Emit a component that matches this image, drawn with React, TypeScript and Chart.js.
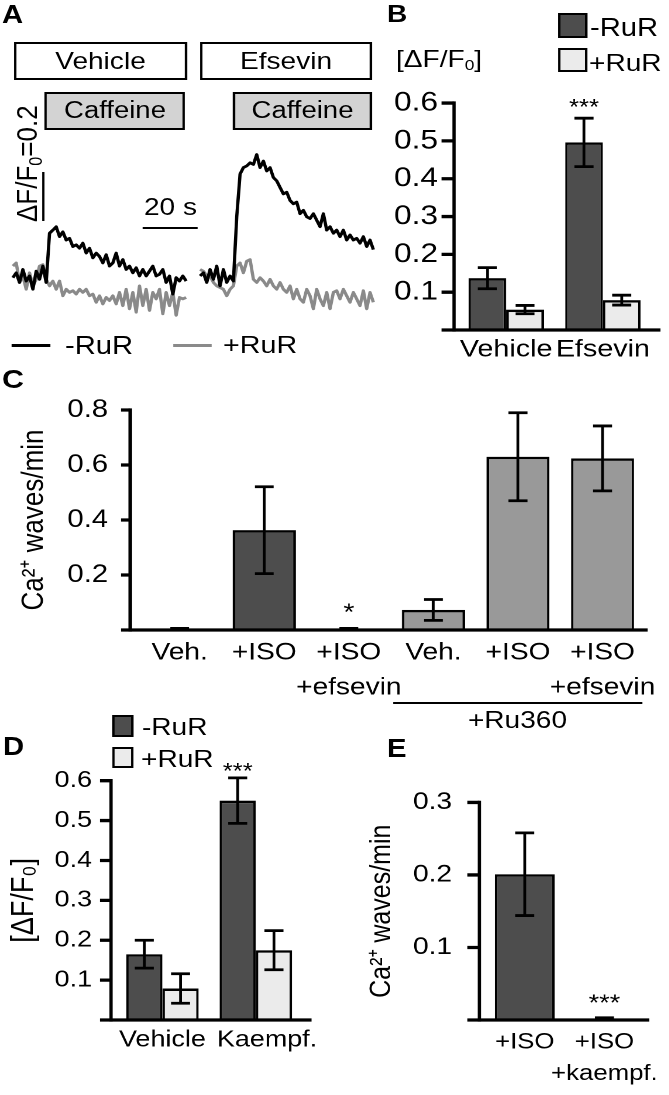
import React, { useEffect, useRef } from 'react';
import { Chart, registerables } from 'chart.js';

Chart.register(...registerables);

// The reference figure is stretched horizontally; everything is laid out in
// final page pixels and drawn inside a wrapper scaled by S along x.
const S = 1.17;
const FONT = '"Liberation Sans", Arial, Helvetica, sans-serif';
const DARK = '#4d4d4d';
const MID = '#999999';
const LIGHT = '#ebebeb';
const CAFF = '#d3d3d3';
const TRACE_GRAY = '#8a8a8a';

// ---------- Panel A: Ca2+ traces (ΔF/F0, ~1.2 s per sample) ----------
const vehicleMinusRuR = [
  0, 0.020, -0.020, 0.034, -0.014, 0.007, -0.048, 0.027, -0.007, 0.048,
  -0.020, 0.184, 0.197, 0.211, 0.170, 0.190, 0.156, 0.163, 0.129, 0.136,
  0.122, 0.143, 0.102, 0.122, 0.082, 0.102, 0.088, 0.061, 0.095, 0.048,
  0.061, 0.102, 0.048, 0.075, 0.034, 0.048, 0.020, 0.041, 0.007, 0.034,
  0.007, 0.027, 0.048, 0.007, 0.014, 0.034, -0.020, 0.007, -0.068, 0,
  -0.014, 0.007, -0.014,
];
const vehiclePlusRuR = [
  0.048, 0.061, -0.020, 0.007, -0.048, 0.020, -0.034, -0.007, 0.048, 0.054,
  -0.007, -0.034, -0.014, -0.048, -0.014, -0.075, -0.048, -0.061, -0.054, -0.068,
  -0.048, -0.061, -0.048, -0.075, -0.068, -0.102, -0.075, -0.109, -0.082, -0.095,
  -0.075, -0.109, -0.061, -0.116, -0.048, -0.129, -0.061, -0.143, -0.034, -0.116,
  -0.048, -0.136, -0.061, -0.088, -0.048, -0.150, -0.061, -0.116, -0.061, -0.156,
  -0.082, -0.088, -0.082,
];
const efsevinMinusRuR = [
  0.007, 0.020, -0.020, 0.034, -0.007, 0.048, -0.034, 0.034, -0.020, 0.007,
  -0.014, 0.252, 0.429, 0.456, 0.463, 0.476, 0.469, 0.510, 0.456, 0.483,
  0.442, 0.456, 0.415, 0.401, 0.374, 0.347, 0.354, 0.320, 0.306, 0.313,
  0.265, 0.279, 0.252, 0.245, 0.265, 0.238, 0.211, 0.265, 0.197, 0.211,
  0.184, 0.197, 0.170, 0.197, 0.156, 0.177, 0.156, 0.163, 0.143, 0.170,
  0.129, 0.156, 0.116,
];
const efsevinPlusRuR = [
  0.034, 0.027, 0.007, 0.007, -0.020, -0.034, -0.041, -0.048, -0.075, -0.048,
  -0.034, 0.048, 0.061, 0.020, 0.068, 0.075, -0.007, -0.020, 0, -0.014,
  -0.034, -0.007, -0.034, -0.048, -0.020, -0.048, -0.061, -0.034, -0.088, -0.048,
  -0.088, -0.102, -0.048, -0.075, -0.129, -0.048, -0.088, -0.116, -0.061, -0.129,
  -0.061, -0.054, -0.088, -0.048, -0.075, -0.102, -0.061, -0.088, -0.116, -0.054,
  -0.129, -0.061, -0.102,
];

// ---------- Panel B ----------
const bCategories = ['Vehicle', 'Efsevin'];
const bMinusRuR = [0.137, 0.496];
const bMinusRuRErr = [0.028, 0.064];
const bPlusRuR = [0.054, 0.079];
const bPlusRuRErr = [0.011, 0.013];
const bStars = ['', '***'];
const bTicks = [0.1, 0.2, 0.3, 0.4, 0.5, 0.6];

// ---------- Panel C ----------
const cCategories: any[] = ['Veh.', '+ISO', ['+ISO', '+efsevin'], 'Veh.', '+ISO', ['+ISO', '+efsevin']];
const cValues = [0, 0.363, 0, 0.073, 0.63, 0.624];
const cErrors = [0.006, 0.158, 0.006, 0.038, 0.16, 0.118];
const cColors = [DARK, DARK, DARK, MID, MID, MID];
const cStars = ['', '', '*', '', '', ''];
const cTicks = [0.2, 0.4, 0.6, 0.8];

// ---------- Panel D ----------
const dCategories = ['Vehicle', '   Kaempf.'];
const dMinusRuR = [0.165, 0.55];
const dMinusRuRErr = [0.035, 0.057];
const dPlusRuR = [0.079, 0.175];
const dPlusRuRErr = [0.037, 0.049];
const dStars = ['', '***'];
const dTicks = [0.1, 0.2, 0.3, 0.4, 0.5, 0.6];

// ---------- Panel E ----------
const eCategories: any[] = ['+ISO', ['+ISO', '+kaempf.']];
const eValues = [0.201, 0];
const eErrors = [0.057, 0.003];
const eStars = ['', '***'];
const eTicks = [0.1, 0.2, 0.3];

type Box = { x: number; y: number; w: number; h: number };

const figPlugin = {
  id: 'fig',
  afterDatasetsDraw(chart: any, _a: any, o: any) {
    const ctx = chart.ctx;
    const ys = chart.scales.y;
    ctx.save();
    ctx.strokeStyle = '#000';
    ctx.fillStyle = '#000';
    ctx.lineCap = 'butt';
    chart.data.datasets.forEach((ds: any, di: number) => {
      if (!ds.errors) return;
      const meta = chart.getDatasetMeta(di);
      meta.data.forEach((el: any, i: number) => {
        const v = ds.data[i];
        const e = ds.errors[i];
        const yT = ys.getPixelForValue(v + e);
        const yB = ys.getPixelForValue(Math.max(0, v - e));
        const hw = o.capW / 2 / S;
        ctx.lineWidth = o.errW / S;
        ctx.beginPath();
        ctx.moveTo(el.x, yT);
        ctx.lineTo(el.x, yB);
        ctx.stroke();
        ctx.lineWidth = o.errW;
        ctx.beginPath();
        ctx.moveTo(el.x - hw, yT);
        ctx.lineTo(el.x + hw, yT);
        ctx.moveTo(el.x - hw, yB);
        ctx.lineTo(el.x + hw, yB);
        ctx.stroke();
        const st = ds.stars && ds.stars[i];
        if (st) {
          ctx.font = `${o.starSize}px ${FONT}`;
          ctx.textAlign = 'center';
          ctx.textBaseline = 'alphabetic';
          ctx.fillText(st, el.x, yT - o.starGap + 0.56 * o.starSize);
        }
      });
    });
    ctx.restore();
  },
  afterDraw(chart: any, _a: any, o: any) {
    const ctx = chart.ctx;
    const area = chart.chartArea;
    const ys = chart.scales.y;
    const ax = area.left - o.yOff / S;
    const y0 = ys.getPixelForValue(0);
    const yTop = ys.getPixelForValue(Math.max(...o.ticks));
    const tl = o.tickLen / S;
    ctx.save();
    ctx.strokeStyle = '#000';
    ctx.lineCap = 'butt';
    ctx.lineWidth = o.axW / S;
    ctx.beginPath();
    ctx.moveTo(ax, yTop - o.axW / 2);
    ctx.lineTo(ax, y0 + o.axW / 2);
    ctx.stroke();
    ctx.lineWidth = o.axW;
    ctx.beginPath();
    o.ticks.forEach((v: number) => {
      const py = ys.getPixelForValue(v);
      ctx.moveTo(ax - tl, py);
      ctx.lineTo(ax, py);
    });
    ctx.moveTo(ax - tl, y0);
    ctx.lineTo(area.right + o.xExt / S, y0);
    ctx.stroke();
    ctx.restore();
  },
};

function barConfig(p: any) {
  const { box, area } = p;
  const ySW = (area.left - box.x) / S;
  const padRight = (box.x + box.w - area.right) / S;
  const padTop = area.top - box.y;
  const xSH = box.y + box.h - area.bottom;
  const xPad = p.xBaseline - area.bottom - p.xLine / 2 - 0.3465 * p.xFont;
  const tickPad = (area.left - p.labelRight) / S;
  const bw = 2.5;
  const title = p.title
    ? {
        display: true,
        text: p.title.text,
        color: '#000',
        font: { family: FONT, size: p.title.size, lineHeight: 1.2 },
        padding: {
          top: (p.title.baselineX - box.x) / S - 0.3465 * p.title.size - p.title.size * 0.6,
          bottom: 0,
        },
      }
    : { display: false };
  return {
    type: 'bar',
    data: {
      labels: p.labels,
      datasets: p.datasets.map((d: any) => ({
        ...d,
        borderColor: '#000',
        borderSkipped: 'start',
        borderWidth: (c: any) => (c.raw === 0 ? 0 : { top: bw, left: bw / S, right: bw / S, bottom: 0 }),
        categoryPercentage: p.catPct,
        barPercentage: p.barPct,
      })),
    },
    options: {
      animation: false,
      responsive: true,
      maintainAspectRatio: false,
      devicePixelRatio: 2,
      events: [],
      layout: { padding: { left: 0, right: padRight, top: padTop, bottom: 0 } },
      scales: {
        x: {
          offset: true,
          afterFit: (s: any) => {
            s.height = xSH;
          },
          grid: { display: false, drawTicks: false, tickLength: 0 },
          border: { display: false },
          ticks: {
            color: '#000',
            font: { family: FONT, size: p.xFont, lineHeight: p.xLine / p.xFont },
            padding: xPad,
            maxRotation: 0,
            minRotation: 0,
            autoSkip: false,
          },
        },
        y: {
          min: 0,
          max: p.yMax,
          afterFit: (s: any) => {
            s.width = ySW;
          },
          afterBuildTicks: (s: any) => {
            s.ticks = p.ticks.map((v: number) => ({ value: v }));
          },
          grid: { display: false, drawTicks: false, tickLength: 0 },
          border: { display: false },
          ticks: {
            color: '#000',
            font: { family: FONT, size: p.yFont },
            padding: tickPad,
            autoSkip: false,
            callback: (v: any) => Number(v).toFixed(1),
          },
          title,
        },
      },
      plugins: {
        legend: { display: false },
        tooltip: { enabled: false },
        fig: {
          ticks: p.ticks,
          yOff: area.left - p.axisX,
          tickLen: p.tickLen,
          xExt: p.axisRight - area.right,
          axW: 3.3,
          errW: 2.8,
          capW: 19,
          starGap: p.starGap,
          starSize: p.starSize,
        },
      },
    },
    plugins: [figPlugin],
  };
}

function traceConfig(black: number[], gray: number[]) {
  const common = { pointRadius: 0, tension: 0, borderWidth: 2.8, clip: false, borderJoinStyle: 'round' };
  return {
    type: 'line',
    data: {
      labels: black.map((_, i) => i),
      datasets: [
        { ...common, data: black, borderColor: '#000' },
        { ...common, data: gray, borderColor: TRACE_GRAY },
      ],
    },
    options: {
      animation: false,
      responsive: true,
      maintainAspectRatio: false,
      devicePixelRatio: 2,
      events: [],
      layout: { padding: { left: 3, right: 3, top: 0, bottom: 0 } },
      scales: {
        x: { display: false },
        y: { display: false, min: -0.211, max: 0.5645 },
      },
      plugins: { legend: { display: false }, tooltip: { enabled: false } },
    },
  };
}

function ChartBox({ box, make }: { box: Box; make: () => any }) {
  const ref = useRef<HTMLCanvasElement>(null);
  useEffect(() => {
    const chart = new Chart(ref.current as HTMLCanvasElement, make());
    return () => chart.destroy();
  }, []);
  return (
    <div style={{ position: 'absolute', left: box.x / S, top: box.y, width: box.w / S, height: box.h }}>
      <canvas ref={ref} />
    </div>
  );
}

function Txt({ x, y, size, bold, align, children }: any) {
  return (
    <div
      style={{
        position: 'absolute',
        left: x / S,
        top: y - 0.8465 * size,
        fontFamily: FONT,
        fontSize: size,
        fontWeight: bold ? 'bold' : 'normal',
        lineHeight: 1,
        whiteSpace: 'nowrap',
        color: '#000',
        transform: align === 'center' ? 'translateX(-50%)' : align === 'right' ? 'translateX(-100%)' : undefined,
      }}
    >
      {children}
    </div>
  );
}

function Rect({ x, y, w, h, fill, bw = 2.6, text, size }: any) {
  return (
    <div
      style={{
        position: 'absolute',
        left: x / S,
        top: y,
        width: w / S,
        height: h,
        boxSizing: 'border-box',
        background: fill,
        borderStyle: 'solid',
        borderColor: '#000',
        borderTopWidth: bw,
        borderBottomWidth: bw,
        borderLeftWidth: bw / S,
        borderRightWidth: bw / S,
        display: 'flex',
        alignItems: 'center',
        justifyContent: 'center',
        fontFamily: FONT,
        fontSize: size,
        lineHeight: 1,
        whiteSpace: 'nowrap',
      }}
    >
      {text}
    </div>
  );
}

function HLine({ x1, x2, y, t = 2.6, color = '#000' }: any) {
  return <div style={{ position: 'absolute', left: x1 / S, width: (x2 - x1) / S, top: y - t / 2, height: t, background: color }} />;
}

function VLine({ x, y1, y2, t = 2.6 }: any) {
  return <div style={{ position: 'absolute', left: (x - t / 2) / S, width: t / S, top: y1, height: y2 - y1, background: '#000' }} />;
}

const subStyle: any = { fontSize: '0.62em', verticalAlign: '-0.22em', lineHeight: 0 };

export default function App() {
  const bBox = { x: 385, y: 70, w: 284, h: 302 };
  const cBox = { x: 0, y: 370, w: 669, h: 365 };
  const dBox = { x: 0, y: 700, w: 330, h: 365 };
  const eBox = { x: 360, y: 760, w: 309, h: 335 };
  const trH = { y: 140, h: 190 };
  const trPad = 3 * S;

  return (
    <div style={{ position: 'absolute', left: 0, top: 0, width: 669, height: 1095, background: '#fff', overflow: 'hidden' }}>
      <div
        style={{
          position: 'absolute',
          left: 0,
          top: 0,
          width: 669 / S,
          height: 1095,
          transform: `scaleX(${S})`,
          transformOrigin: '0 0',
          fontFamily: FONT,
          color: '#000',
        }}
      >
        {/* Panel A */}
        <Txt x={2} y={23} size={25} bold>A</Txt>
        <Rect x={14} y={42} w={173} h={38} fill="#fff" text="Vehicle" size={24} />
        <Rect x={200} y={42} w={172} h={38} fill="#fff" text="Efsevin" size={24} />
        <Rect x={45} y={92} w={140} h={38} fill={CAFF} text="Caffeine" size={23.5} />
        <Rect x={233} y={92} w={139} h={38} fill={CAFF} text="Caffeine" size={23.5} />
        <VLine x={43} y1={172} y2={221} />
        <div
          style={{
            position: 'absolute',
            left: 38 / S - 0.8465 * 26,
            top: 222,
            transformOrigin: '0 0',
            transform: 'rotate(-90deg)',
            fontFamily: FONT,
            fontSize: 26,
            lineHeight: 1,
            whiteSpace: 'nowrap',
          }}
        >
          ΔF/F<sub style={subStyle}>0</sub>=0.2
        </div>
        <Txt x={170.5} y={215} size={24} align="center">20 s</Txt>
        <HLine x1={143} x2={198} y={228} />
        <ChartBox
          box={{ x: 13.33 - trPad, y: trH.y, w: 173.33 + 2 * trPad, h: trH.h }}
          make={() => traceConfig(vehicleMinusRuR, vehiclePlusRuR)}
        />
        <ChartBox
          box={{ x: 200 - trPad, y: trH.y, w: 173.33 + 2 * trPad, h: trH.h }}
          make={() => traceConfig(efsevinMinusRuR, efsevinPlusRuR)}
        />
        <HLine x1={12} x2={50} y={345} t={3} />
        <Txt x={65} y={354} size={25}>-RuR</Txt>
        <HLine x1={173} x2={212} y={345} t={3} color={TRACE_GRAY} />
        <Txt x={223} y={354} size={24.5}>+RuR</Txt>

        {/* Panel B */}
        <Txt x={387} y={22} size={24} bold>B</Txt>
        <Rect x={558} y={13} w={29} h={25} fill={DARK} />
        <Rect x={558} y={48} w={29} h={24} fill={LIGHT} />
        <Txt x={590} y={36} size={25}>-RuR</Txt>
        <Txt x={589} y={71} size={24}>+RuR</Txt>
        <Txt x={396} y={67} size={24}>
          [ΔF/F<sub style={subStyle}>0</sub>]
        </Txt>
        <ChartBox
          box={bBox}
          make={() =>
            barConfig({
              box: bBox,
              area: { left: 457.75, right: 650.75, top: 90, bottom: 330 },
              labels: bCategories,
              datasets: [
                { label: '-RuR', data: bMinusRuR, errors: bMinusRuRErr, stars: bStars, backgroundColor: DARK },
                { label: '+RuR', data: bPlusRuR, errors: bPlusRuRErr, backgroundColor: LIGHT },
              ],
              yMax: 0.6,
              ticks: bTicks,
              yFont: 27,
              labelRight: 438,
              axisX: 454,
              tickLen: 12.5,
              axisRight: 660,
              xFont: 24.5,
              xLine: 29,
              xBaseline: 358,
              catPct: 0.78,
              barPct: 1,
              starGap: 16,
              starSize: 22,
            })
          }
        />

        {/* Panel C */}
        <Txt x={2} y={388} size={26} bold>C</Txt>
        <ChartBox
          box={cBox}
          make={() =>
            barConfig({
              box: cBox,
              area: { left: 137.25, right: 644.25, top: 391.7, bottom: 630 },
              labels: cCategories,
              datasets: [
                { label: 'Ca waves', data: cValues, errors: cErrors, stars: cStars, backgroundColor: cColors },
              ],
              yMax: 0.8,
              ticks: cTicks,
              yFont: 25,
              labelRight: 108,
              axisX: 130,
              tickLen: 9,
              axisRight: 647,
              xFont: 24,
              xLine: 35,
              xBaseline: 661,
              catPct: 1,
              barPct: 0.745,
              starGap: 22,
              starSize: 24,
              title: { text: 'Ca²⁺ waves/min', size: 26, baselineX: 45 },
            })
          }
        />
        <HLine x1={393} x2={642} y={703} />
        <Txt x={517.5} y={728} size={24} align="center">+Ru360</Txt>

        {/* Panel D */}
        <Txt x={3} y={755} size={25} bold>D</Txt>
        <Rect x={112} y={715} w={21} h={22} fill={DARK} />
        <Rect x={112} y={747} w={21} h={21} fill={LIGHT} />
        <Txt x={142} y={735} size={24}>-RuR</Txt>
        <Txt x={141} y={767} size={24}>+RuR</Txt>
        <ChartBox
          box={dBox}
          make={() =>
            barConfig({
              box: dBox,
              area: { left: 115.7, right: 308, top: 780.7, bottom: 1020 },
              labels: dCategories,
              datasets: [
                { label: '-RuR', data: dMinusRuR, errors: dMinusRuRErr, stars: dStars, backgroundColor: DARK },
                { label: '+RuR', data: dPlusRuR, errors: dPlusRuRErr, backgroundColor: LIGHT },
              ],
              yMax: 0.6,
              ticks: dTicks,
              yFont: 23,
              labelRight: 92,
              axisX: 111,
              tickLen: 11,
              axisRight: 317,
              xFont: 23,
              xLine: 27.6,
              xBaseline: 1048,
              catPct: 0.776,
              barPct: 1,
              starGap: 11.6,
              starSize: 22,
              title: { text: '[ΔF/F₀]', size: 27, baselineX: 35 },
            })
          }
        />

        {/* Panel E */}
        <Txt x={387} y={757} size={25} bold>E</Txt>
        <ChartBox
          box={eBox}
          make={() =>
            barConfig({
              box: eBox,
              area: { left: 484.5, right: 653, top: 782.7, bottom: 1020 },
              labels: eCategories,
              datasets: [
                { label: 'Ca waves', data: eValues, errors: eErrors, stars: eStars, backgroundColor: DARK },
              ],
              yMax: 0.3,
              ticks: eTicks,
              yFont: 24,
              labelRight: 451.7,
              axisX: 479,
              tickLen: 12,
              axisRight: 658,
              xFont: 22,
              xLine: 31.7,
              xBaseline: 1050,
              catPct: 1,
              barPct: 0.75,
              starGap: 20,
              starSize: 23,
              title: { text: 'Ca²⁺ waves/min', size: 25, baselineX: 392 },
            })
          }
        />
      </div>
    </div>
  );
}
